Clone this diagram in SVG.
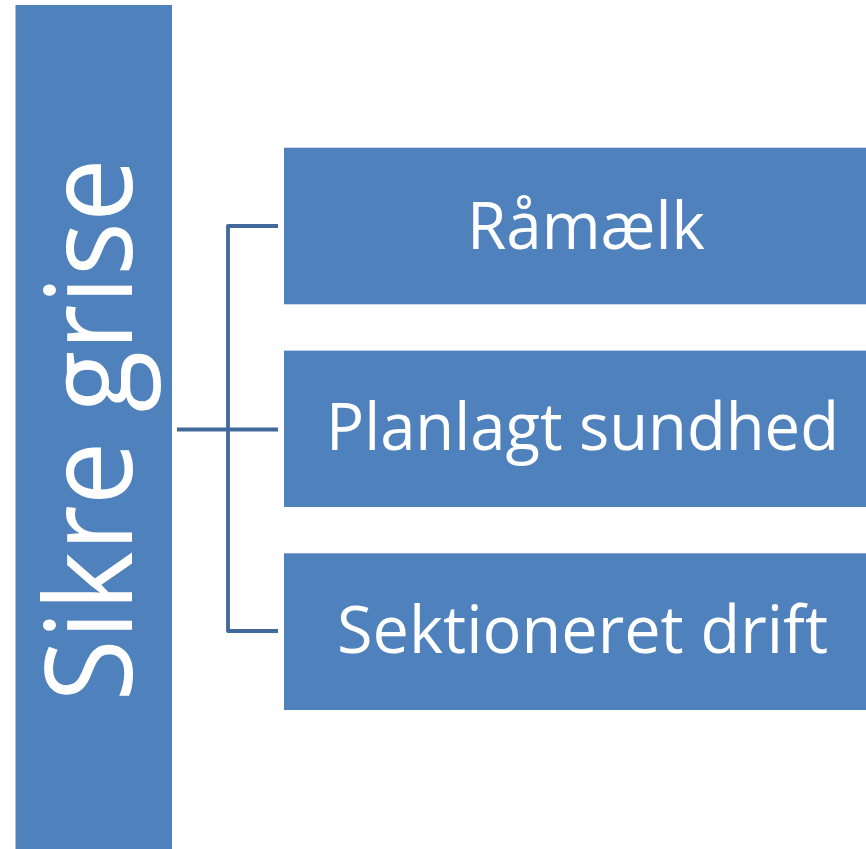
<svg xmlns="http://www.w3.org/2000/svg" width="866" height="849" viewBox="0 0 866 849">
  <style>
    .box { fill: #4F81BD; }
    .lbl { fill: #FFFFFF; font-family: "Open Sans", "DejaVu Sans", sans-serif; font-size: 65px; text-anchor: middle; }
    .title { fill: #FFFFFF; font-family: "Open Sans", "DejaVu Sans", sans-serif; font-size: 120px; text-anchor: middle; }
    .conn { fill: none; stroke: #41699A; stroke-width: 3.8; stroke-linejoin: round; stroke-linecap: butt; }
  </style>
  <rect width="866" height="849" fill="#FFFFFF"/>
  <g id="root">
    <rect class="box" x="15.5" y="5" width="156.5" height="850"/>
    <text class="title" transform="translate(132,430) rotate(-90)" textLength="543" lengthAdjust="spacingAndGlyphs">Sikre grise</text>
  </g>
  <g id="connectors">
    <path class="conn" d="M278,226 H228 V631 H278"/>
    <path class="conn" d="M177,429.5 H278"/>
  </g>
  <g id="node1">
    <rect class="box" x="284" y="147.7" width="600" height="156.6"/>
    <text class="lbl" x="586" y="249" textLength="238" lengthAdjust="spacingAndGlyphs">Råmælk</text>
  </g>
  <g id="node2">
    <rect class="box" x="284" y="350.6" width="600" height="156.4"/>
    <text class="lbl" x="582.5" y="450" textLength="513" lengthAdjust="spacingAndGlyphs">Planlagt sundhed</text>
  </g>
  <g id="node3">
    <rect class="box" x="284" y="553.3" width="600" height="156.7"/>
    <text class="lbl" x="582.5" y="653" textLength="491" lengthAdjust="spacingAndGlyphs">Sektioneret drift</text>
  </g>
</svg>
